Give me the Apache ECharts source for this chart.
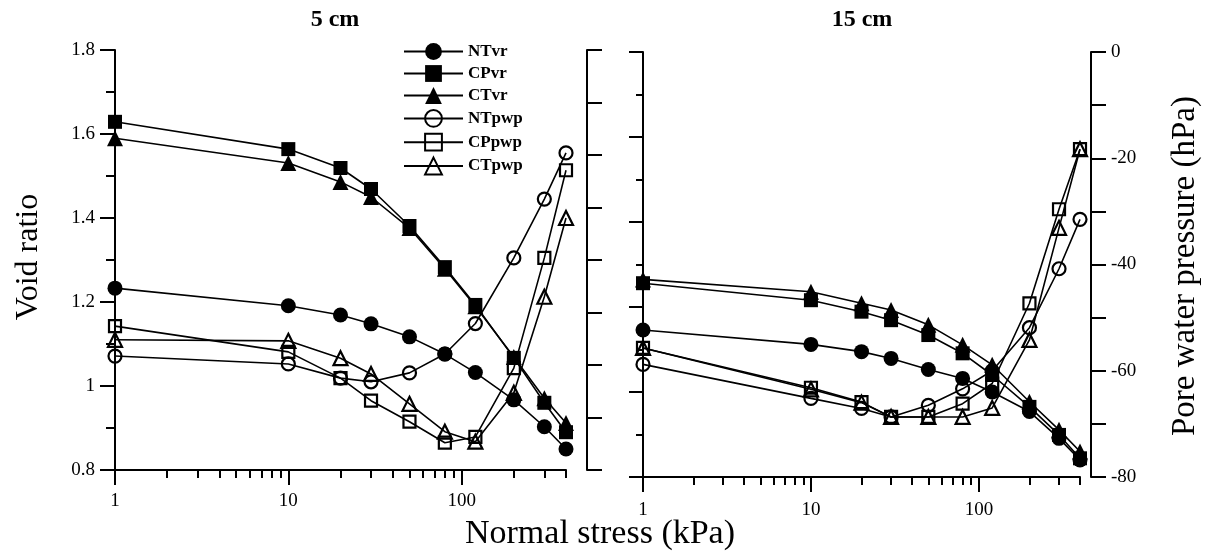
<!DOCTYPE html>
<html><head><meta charset="utf-8">
<script src="https://cdn.jsdelivr.net/npm/echarts@6/dist/echarts.min.js"></script>
<style>html,body{margin:0;padding:0;background:#fff}#c{width:1206px;height:553px}</style>
</head><body><div id="c"></div>
<script>
// Normal stress (kPa)
const stress = [1, 10, 20, 30, 50, 80, 120, 200, 300, 400];
const xMajorTicks = [1, 10, 100];
const xMinorTicks = [2,3,4,5,6,7,8,9,20,30,40,50,60,70,80,90,200,300,400];
const panelTitles = ['5 cm', '15 cm'];
const seriesNames = ['NTvr', 'CPvr', 'CTvr', 'NTpwp', 'CPpwp', 'CTpwp'];

// 5 cm: void ratio
const nt5vr = [1.233, 1.191, 1.169, 1.148, 1.117, 1.076, 1.032, 0.967, 0.903, 0.850];
const cp5vr = [1.629, 1.564, 1.519, 1.469, 1.381, 1.283, 1.193, 1.067, 0.960, 0.890];
const ct5vr = [1.590, 1.531, 1.486, 1.450, 1.376, 1.279, 1.190, 1.069, 0.971, 0.912];
// 5 cm: pore water pressure (hPa)
const nt5pwp = [-58.3, -59.8, -62.5, -63.2, -61.5, -57.9, -52.1, -39.6, -28.4, -19.6];
const cp5pwp = [-52.6, -57.5, -62.5, -66.8, -70.8, -74.8, -73.7, -60.6, -39.6, -22.9];
const ct5pwp = [-55.2, -55.4, -58.7, -61.7, -67.4, -72.7, -74.6, -65.3, -47.0, -32.0];

// 15 cm: void ratio
const nt15vr = [1.146, 1.112, 1.095, 1.079, 1.053, 1.032, 1.000, 0.954, 0.891, 0.840];
const cp15vr = [1.256, 1.216, 1.189, 1.169, 1.134, 1.091, 1.040, 0.965, 0.899, 0.844];
const ct15vr = [1.265, 1.236, 1.209, 1.193, 1.158, 1.111, 1.064, 0.977, 0.911, 0.860];
// 15 cm: pore water pressure (hPa)
const nt15pwp = [-58.8, -65.2, -67.1, -68.7, -66.5, -63.4, -60.0, -51.9, -40.8, -31.5];
const cp15pwp = [-55.7, -63.2, -65.9, -68.7, -68.7, -66.2, -62.4, -47.3, -29.6, -18.3];
const ct15pwp = [-55.7, -63.5, -66.0, -68.7, -68.7, -68.7, -67.0, -54.2, -33.1, -18.3];

const FONT = 'Liberation Serif';
const BLACK = '#000';

function pairs(vals) { return stress.map((s, i) => [s, vals[i]]); }

const symbolOf = { NT: 'circle', CP: 'rect', CT: 'triangle' };
const sizeOf = { NT: 15, CP: 14, CT: 16 };
function mk(name, xi, yi, vals) {
  const kind = name.slice(0, 2);
  const filled = name.endsWith('vr');
  return {
    name, type: 'line', xAxisIndex: xi, yAxisIndex: yi,
    data: pairs(vals),
    symbol: symbolOf[kind],
    symbolSize: filled ? sizeOf[kind] : sizeOf[kind] - 2,
    showAllSymbol: true,
    lineStyle: { color: BLACK, width: 1.6 },
    itemStyle: filled
      ? { color: BLACK, borderColor: BLACK, borderWidth: 0 }
      : { color: 'transparent', borderColor: BLACK, borderWidth: 2.2 },
    emphasis: { disabled: true },
    z: filled ? 3 : 4
  };
}

function xAxes(gi, labelMargin) {
  return [
    { gridIndex: gi, type: 'log', logBase: 10, min: 1, max: 400, position: 'bottom',
      axisLine: { show: true, onZero: false, lineStyle: { color: BLACK, width: 2 } },
      axisTick: { show: true, customValues: xMajorTicks, length: 15, lineStyle: { color: BLACK, width: 2 } },
      axisLabel: { show: true, customValues: xMajorTicks, margin: labelMargin, color: BLACK, fontFamily: FONT, fontSize: 19 },
      splitLine: { show: false }, minorTick: { show: false }, minorSplitLine: { show: false } },
    { gridIndex: gi, type: 'log', logBase: 10, min: 1, max: 400, position: 'bottom',
      axisLine: { show: false, onZero: false },
      axisTick: { show: true, customValues: xMinorTicks, length: 8, lineStyle: { color: BLACK, width: 2 } },
      axisLabel: { show: false },
      splitLine: { show: false } }
  ];
}

function vrAxis(gi, showLabels) {
  return { gridIndex: gi, type: 'value', position: 'left', min: 0.8, max: 1.8, interval: 0.2,
    axisLine: { show: true, onZero: false, lineStyle: { color: BLACK, width: 2 } },
    axisTick: { show: true, length: showLabels ? 15 : 14, lineStyle: { color: BLACK, width: 2 } },
    minorTick: { show: true, splitNumber: 2, length: showLabels ? 9 : 7, lineStyle: { color: BLACK, width: 2 } },
    axisLabel: { show: showLabels, margin: 20, color: BLACK, fontFamily: FONT, fontSize: 19 },
    splitLine: { show: false } };
}
function pwpAxis(gi, showLabels, off) {
  return { gridIndex: gi, type: 'value', position: 'right', offset: off, min: -80, max: 0, interval: 20,
    axisLine: { show: true, onZero: false, lineStyle: { color: BLACK, width: 2 } },
    axisTick: { show: true, length: 15, lineStyle: { color: BLACK, width: 2 } },
    minorTick: { show: true, splitNumber: 2, length: 15, lineStyle: { color: BLACK, width: 2 } },
    axisLabel: { show: showLabels, margin: 20, color: BLACK, fontFamily: FONT, fontSize: 19 },
    splitLine: { show: false } };
}

const option = {
  animation: false,
  backgroundColor: '#fff',
  grid: [
    { left: 115, top: 50, width: 451, height: 420, outerBoundsMode: 'none', containLabel: false },
    { left: 643, top: 52, width: 437, height: 425, outerBoundsMode: 'none', containLabel: false }
  ],
  xAxis: [...xAxes(0, 22), ...xAxes(1, 24)],
  yAxis: [vrAxis(0, true), pwpAxis(0, false, 21), vrAxis(1, false), pwpAxis(1, true, 11)],
  legend: {
    data: seriesNames, orient: 'vertical', left: 403, top: 43, padding: 0,
    itemWidth: 59, itemHeight: 21, itemGap: 5,
    textStyle: { color: BLACK, fontFamily: FONT, fontSize: 17, fontWeight: 'bold' },
    selectedMode: false
  },
  graphic: [
    { type: 'text', style: { text: panelTitles[0], font: 'bold 24px "Liberation Serif"', fill: BLACK, textAlign: 'center', textVerticalAlign: 'middle' }, x: 335, y: 20 },
    { type: 'text', style: { text: panelTitles[1], font: 'bold 24px "Liberation Serif"', fill: BLACK, textAlign: 'center', textVerticalAlign: 'middle' }, x: 862, y: 20 },
    { type: 'text', style: { text: 'Void ratio', font: '32px "Liberation Serif"', fill: BLACK, textAlign: 'center', textVerticalAlign: 'middle' }, x: 29, y: 257, rotation: Math.PI / 2 },
    { type: 'text', style: { text: 'Normal stress (kPa)', font: '34px "Liberation Serif"', fill: BLACK, textAlign: 'center', textVerticalAlign: 'middle' }, x: 600, y: 534 },
    { type: 'text', style: { text: 'Pore water pressure (hPa)', font: '33px "Liberation Serif"', fill: BLACK, textAlign: 'center', textVerticalAlign: 'middle' }, x: 1185, y: 266, rotation: Math.PI / 2 }
  ],
  series: [
    mk('NTvr', 0, 0, nt5vr), mk('CPvr', 0, 0, cp5vr), mk('CTvr', 0, 0, ct5vr),
    mk('NTpwp', 0, 1, nt5pwp), mk('CPpwp', 0, 1, cp5pwp), mk('CTpwp', 0, 1, ct5pwp),
    mk('NTvr', 2, 2, nt15vr), mk('CPvr', 2, 2, cp15vr), mk('CTvr', 2, 2, ct15vr),
    mk('NTpwp', 2, 3, nt15pwp), mk('CPpwp', 2, 3, cp15pwp), mk('CTpwp', 2, 3, ct15pwp)
  ]
};
const chart = echarts.init(document.getElementById('c'), null, { renderer: 'canvas' });
chart.setOption(option);
</script></body></html>
